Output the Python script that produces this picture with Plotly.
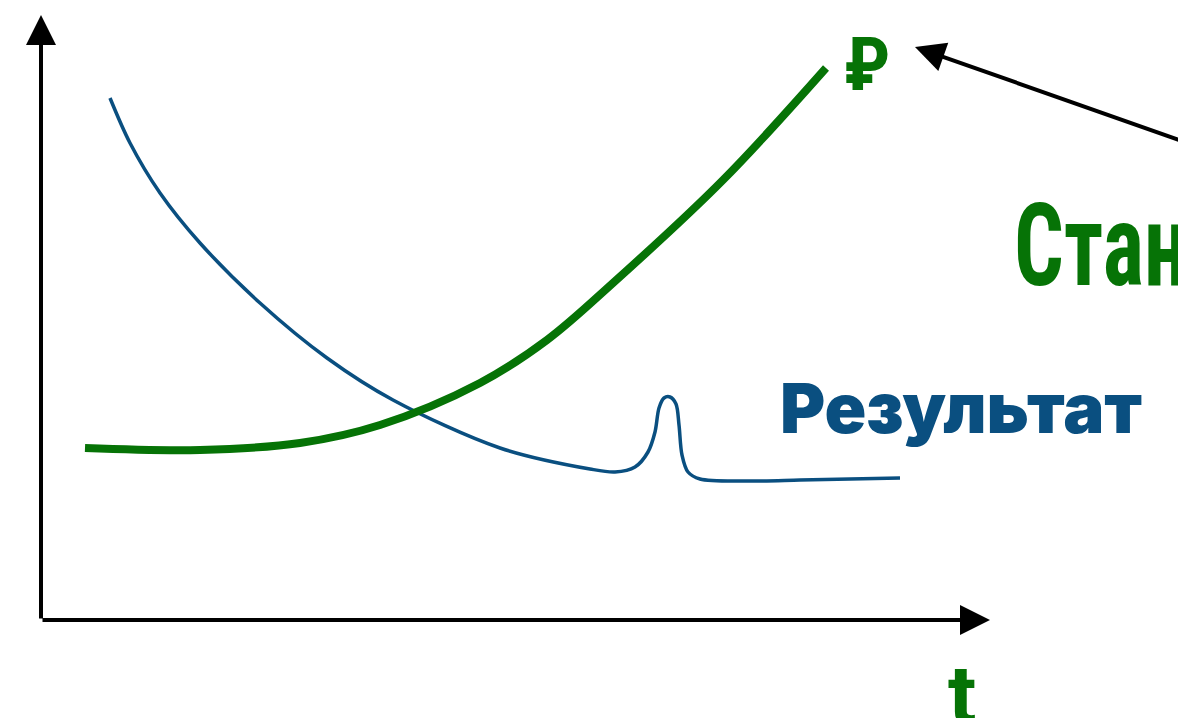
import plotly.graph_objects as go

GREEN = "#067306"
BLUE = "#0a4f80"

# green curve (цена), pixel-like coordinates
green_x = [85, 200, 300, 380, 480, 547, 613, 723, 826]
green_y = [448, 450, 443, 425, 383, 340, 283, 180, 68]

# blue curve (результат) with the small spike
blue_x = [110, 130, 160, 200, 260, 327, 393, 500, 590, 615, 635,
          648, 655, 659, 664, 670, 676, 679, 682, 688, 700, 750, 800, 850, 900]
blue_y = [98, 143, 193, 243, 303, 358, 400, 448, 469, 472, 467,
          452, 432, 408, 398, 397, 404, 425, 455, 472, 479, 481, 480, 479, 478]

# axes: origin and arrow tips
origin = (41, 620)
x_tip = (990, 620)
y_tip = (41, 15)
# pointer arrow from the right edge to the ruble sign
pointer_tail = (1185, 142)
pointer_tip = (915, 47)

fig = go.Figure()

fig.add_trace(go.Scatter(x=blue_x, y=blue_y, mode="lines",
                         line=dict(color=BLUE, width=3.5, shape="spline", smoothing=0.9),
                         hoverinfo="skip"))
fig.add_trace(go.Scatter(x=green_x, y=green_y, mode="lines",
                         line=dict(color=GREEN, width=8, shape="spline", smoothing=1),
                         hoverinfo="skip"))

for tip, tail in [(x_tip, origin), (y_tip, origin), (pointer_tip, pointer_tail)]:
    fig.add_annotation(x=tip[0], y=tip[1], ax=tail[0], ay=tail[1],
                       xref="x", yref="y", axref="x", ayref="y",
                       text="", showarrow=True, arrowhead=2, arrowsize=1.5,
                       arrowwidth=4, arrowcolor="black")

fig.add_annotation(x=867, y=64, text="₽", showarrow=False, xref="x", yref="y",
                   font=dict(family="Roboto Condensed, Roboto", size=74, color=GREEN,
                             weight="bold"))
fig.add_annotation(x=1012, y=245, text="Стандарт", showarrow=False, xref="x", yref="y",
                   xanchor="left",
                   font=dict(family="Roboto Condensed, DejaVu Sans Condensed",
                             size=115, color=GREEN, weight="bold"))
fig.add_annotation(x=778, y=408, text="Результат", showarrow=False, xref="x", yref="y",
                   xanchor="left",
                   font=dict(family="Inter", size=69, color=BLUE, weight=900))
fig.add_annotation(x=962, y=695, text="t", showarrow=False, xref="x", yref="y",
                   font=dict(family="Roboto", size=84, color=GREEN, weight="bold"))

fig.update_xaxes(range=[0, 1178], visible=False)
fig.update_yaxes(range=[718, 0], visible=False)
fig.update_layout(width=1178, height=718, margin=dict(l=0, r=0, t=0, b=0),
                  plot_bgcolor="white", paper_bgcolor="white", showlegend=False)

# no body margin; squeeze the big label a bit, the original font is narrower
post = """
document.body.style.margin = '0';
document.querySelectorAll('text.annotation-text').forEach(function (el) {
  if (el.textContent === 'Стандарт') {
    el.style.transformBox = 'fill-box';
    el.style.transformOrigin = 'left center';
    el.style.transform = 'scaleX(0.76)';
  }
});
"""
fig.write_html("out.html", config={"displayModeBar": False}, post_script=post)
